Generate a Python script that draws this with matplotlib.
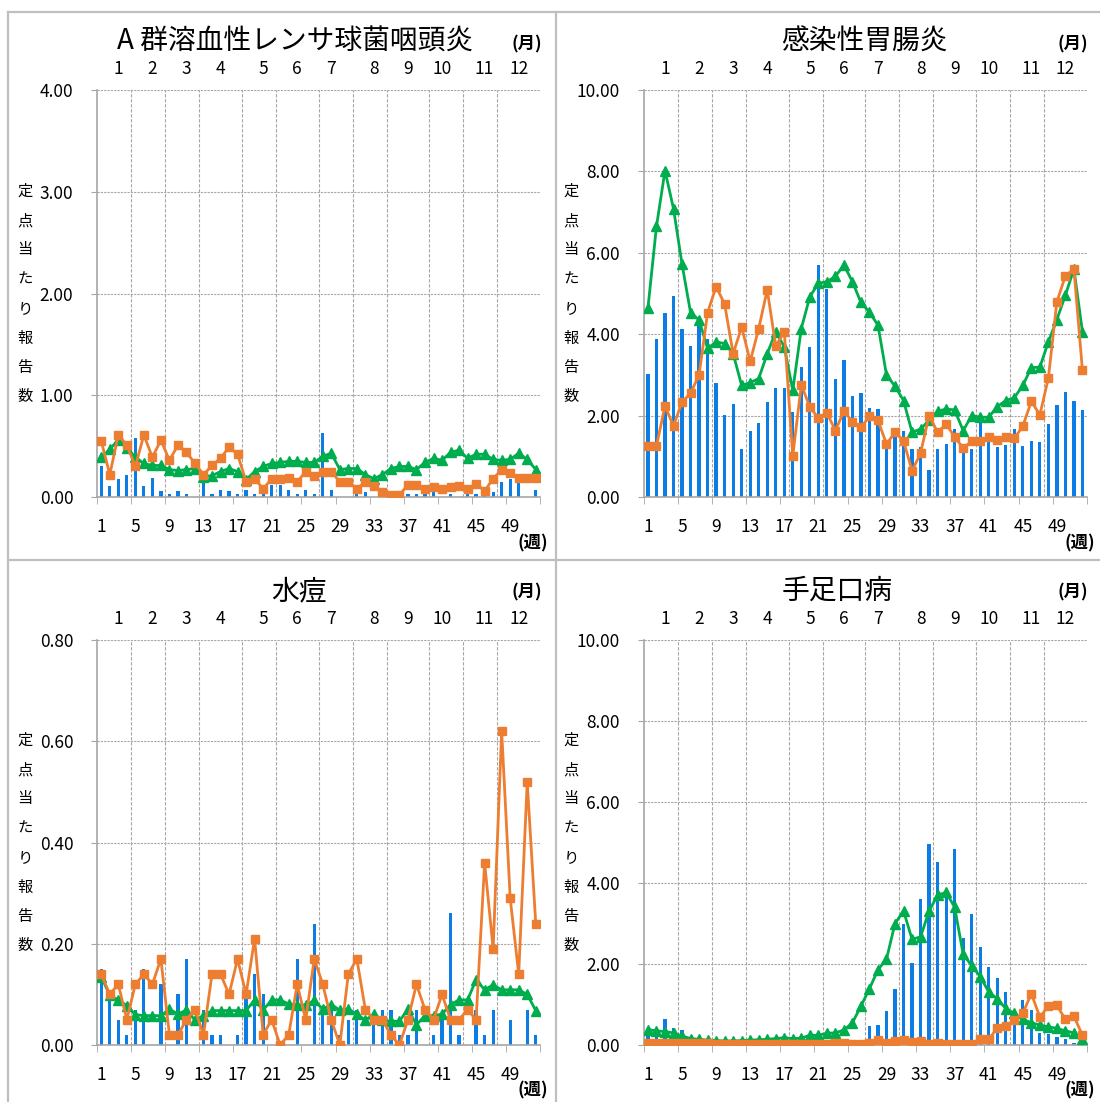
import numpy as np
import matplotlib
matplotlib.use("Agg")
import matplotlib.pyplot as plt
from matplotlib.lines import Line2D

plt.rcParams['font.family'] = ['Noto Sans CJK JP', 'DejaVu Sans']

weeks = np.arange(1, 53)
month_names = ['1', '2', '3', '4', '5', '6', '7', '8', '9', '10', '11', '12']
month_label_week = [3, 7, 11, 15, 20, 24, 28, 33, 37, 41, 46, 50]
month_edges = [4.5, 8.5, 12.5, 17.5, 21.5, 26.5, 30.5, 34.5, 39.5, 43.5, 47.5]
week_labels = [1, 5, 9, 13, 17, 21, 25, 29, 33, 37, 41, 45, 49]
ylabel_chars = '定点当たり報告数'

titles = ['A 群溶血性レンサ球菌咽頭炎', '感染性胃腸炎', '水痘', '手足口病']
y_max = [4.0, 10.0, 0.8, 10.0]
y_step = [1.0, 2.0, 0.2, 2.0]

# A群溶血性レンサ球菌咽頭炎
strep_cur = [0.30, 0.11, 0.18, 0.22, 0.58, 0.11, 0.19, 0.06, 0.03, 0.06, 0.03, 0.00, 0.18,
             0.03, 0.07, 0.06, 0.03, 0.07, 0.03, 0.03, 0.12, 0.12, 0.07, 0.03, 0.07, 0.03,
             0.63, 0.07, 0.00, 0.00, 0.03, 0.05, 0.00, 0.02, 0.00, 0.00, 0.03, 0.03, 0.03,
             0.05, 0.00, 0.03, 0.00, 0.04, 0.03, 0.02, 0.05, 0.15, 0.18, 0.15, 0.00, 0.07]
strep_prev = [0.55, 0.22, 0.61, 0.51, 0.30, 0.61, 0.39, 0.56, 0.36, 0.51, 0.44, 0.33, 0.22,
              0.31, 0.38, 0.49, 0.42, 0.15, 0.18, 0.08, 0.18, 0.18, 0.19, 0.15, 0.25, 0.21,
              0.25, 0.25, 0.15, 0.15, 0.08, 0.15, 0.11, 0.05, 0.02, 0.02, 0.12, 0.12, 0.08,
              0.10, 0.08, 0.10, 0.11, 0.08, 0.13, 0.06, 0.18, 0.27, 0.24, 0.19, 0.19, 0.19]
strep_avg = [0.39, 0.47, 0.56, 0.48, 0.39, 0.33, 0.31, 0.31, 0.27, 0.26, 0.27, 0.28, 0.20,
             0.21, 0.25, 0.28, 0.25, 0.17, 0.25, 0.30, 0.33, 0.34, 0.35, 0.35, 0.34, 0.34,
             0.40, 0.43, 0.27, 0.28, 0.28, 0.22, 0.18, 0.22, 0.28, 0.30, 0.30, 0.27, 0.34,
             0.38, 0.36, 0.44, 0.46, 0.38, 0.42, 0.42, 0.37, 0.36, 0.37, 0.43, 0.37, 0.27]

# 感染性胃腸炎
gastro_cur = [3.01, 3.89, 4.51, 4.95, 4.14, 3.70, 4.28, 3.89, 2.81, 2.02, 2.29, 1.18, 1.61,
              1.82, 2.33, 2.68, 2.68, 2.08, 3.19, 3.69, 5.69, 5.10, 2.89, 3.36, 2.49, 2.56,
              2.19, 2.16, 1.30, 1.55, 1.63, 1.18, 1.23, 0.67, 1.18, 1.30, 1.67, 1.18, 1.18,
              1.88, 1.37, 1.23, 1.28, 1.67, 1.26, 1.38, 1.34, 1.79, 2.25, 2.59, 2.35, 2.14]
gastro_prev = [1.26, 1.26, 2.23, 1.75, 2.33, 2.55, 3.00, 4.53, 5.17, 4.74, 3.52, 4.18, 3.33,
               4.14, 5.09, 3.71, 4.06, 1.01, 2.76, 2.21, 1.94, 2.07, 1.63, 2.11, 1.85, 1.71,
               1.98, 1.88, 1.30, 1.59, 1.38, 0.64, 1.08, 2.00, 1.59, 1.79, 1.48, 1.20, 1.37,
               1.37, 1.47, 1.40, 1.47, 1.44, 1.74, 2.35, 2.02, 2.92, 4.80, 5.43, 5.60, 3.11]
gastro_avg = [4.65, 6.65, 8.02, 7.08, 5.72, 4.53, 4.35, 3.65, 3.81, 3.77, 3.52, 2.74, 2.81,
              2.91, 3.52, 4.06, 3.69, 2.62, 4.14, 4.92, 5.25, 5.29, 5.42, 5.70, 5.29, 4.78,
              4.54, 4.22, 3.00, 2.72, 2.37, 1.59, 1.67, 1.88, 2.11, 2.16, 2.14, 1.63, 2.00,
              1.96, 1.96, 2.22, 2.37, 2.44, 2.74, 3.18, 3.19, 3.81, 4.36, 4.96, 5.60, 4.06]

# 水痘
vari_cur = [0.15, 0.10, 0.05, 0.02, 0.07, 0.15, 0.00, 0.12, 0.00, 0.10, 0.17, 0.00, 0.07,
            0.02, 0.02, 0.00, 0.02, 0.10, 0.14, 0.10, 0.00, 0.00, 0.00, 0.17, 0.00, 0.24,
            0.07, 0.07, 0.02, 0.05, 0.07, 0.00, 0.06, 0.07, 0.07, 0.02, 0.02, 0.07, 0.00,
            0.02, 0.05, 0.26, 0.02, 0.00, 0.07, 0.02, 0.07, 0.00, 0.05, 0.00, 0.07, 0.02]
vari_prev = [0.14, 0.10, 0.12, 0.05, 0.12, 0.14, 0.12, 0.17, 0.02, 0.02, 0.05, 0.07, 0.02,
             0.14, 0.14, 0.10, 0.17, 0.10, 0.21, 0.02, 0.05, 0.00, 0.02, 0.12, 0.05, 0.17,
             0.12, 0.05, 0.00, 0.14, 0.17, 0.07, 0.05, 0.05, 0.02, 0.00, 0.05, 0.12, 0.07,
             0.05, 0.10, 0.05, 0.05, 0.07, 0.05, 0.36, 0.19, 0.62, 0.29, 0.14, 0.52, 0.24]
vari_avg = [0.135, 0.098, 0.089, 0.078, 0.060, 0.058, 0.058, 0.058, 0.071, 0.061, 0.069,
            0.049, 0.058, 0.068, 0.068, 0.068, 0.068, 0.068, 0.089, 0.069, 0.089, 0.089,
            0.081, 0.079, 0.079, 0.088, 0.071, 0.080, 0.069, 0.071, 0.061, 0.049, 0.061,
            0.049, 0.047, 0.047, 0.071, 0.040, 0.058, 0.058, 0.061, 0.080, 0.089, 0.089,
            0.129, 0.109, 0.119, 0.109, 0.109, 0.109, 0.100, 0.068]

# 手足口病
hfmd_cur = [0.29, 0.33, 0.63, 0.43, 0.37, 0.05, 0.02, 0.02, 0.02, 0.02, 0.02, 0.02, 0.02,
            0.02, 0.02, 0.02, 0.02, 0.02, 0.02, 0.02, 0.02, 0.02, 0.02, 0.02, 0.05, 0.08,
            0.47, 0.49, 0.84, 1.39, 3.00, 2.02, 3.61, 4.96, 4.51, 3.75, 4.84, 2.64, 3.24,
            2.42, 1.92, 1.65, 1.32, 0.86, 1.10, 0.86, 0.29, 0.26, 0.20, 0.16, 0.06, 0.04]
hfmd_prev = [0.04, 0.04, 0.04, 0.04, 0.04, 0.04, 0.04, 0.04, 0.03, 0.03, 0.03, 0.03, 0.03,
             0.03, 0.03, 0.03, 0.03, 0.03, 0.03, 0.03, 0.03, 0.03, 0.04, 0.04, 0.03, 0.02,
             0.06, 0.12, 0.04, 0.10, 0.12, 0.08, 0.11, 0.02, 0.06, 0.02, 0.02, 0.02, 0.02,
             0.16, 0.14, 0.42, 0.47, 0.61, 0.78, 1.27, 0.69, 0.96, 0.98, 0.63, 0.71, 0.24]
hfmd_avg = [0.38, 0.35, 0.33, 0.30, 0.22, 0.16, 0.14, 0.12, 0.11, 0.10, 0.10, 0.11, 0.12,
            0.13, 0.14, 0.16, 0.18, 0.16, 0.17, 0.24, 0.24, 0.29, 0.30, 0.37, 0.55, 0.96,
            1.39, 1.86, 2.12, 3.00, 3.31, 2.61, 2.67, 3.31, 3.70, 3.77, 3.40, 2.24, 1.96,
            1.69, 1.31, 1.14, 0.90, 0.78, 0.63, 0.55, 0.49, 0.45, 0.41, 0.35, 0.30, 0.16]

cur_data = [strep_cur, gastro_cur, vari_cur, hfmd_cur]
prev_data = [strep_prev, gastro_prev, vari_prev, hfmd_prev]
avg_data = [strep_avg, gastro_avg, vari_avg, hfmd_avg]

BLUE = '#0B7DE4'
ORANGE = '#ED7D31'
GREEN = '#00AD4E'
GRID = '#A6A6A6'
FRAME = '#BFBFBF'

W, H = 1100, 1102
fig = plt.figure(figsize=(W / 100, H / 100), dpi=100)


def fpos(x, y):
    return x / W, 1 - y / H


# panel frame lines
for (x0, y0), (x1, y1) in [((8, 12), (1100, 12)), ((8, 12), (8, 1102)),
                           ((556, 12), (556, 1102)), ((8, 560), (1100, 560))]:
    a, b = fpos(x0, y0)
    c, d = fpos(x1, y1)
    fig.add_artist(Line2D([a, c], [b, d], color=FRAME, lw=1.6))

# axes boxes in pixels: left, top, width, height
boxes = [(97, 90, 443, 407), (643.7, 90, 443, 407),
         (97, 640, 443, 405), (643.7, 640, 443, 405)]
title_xy = [(295, 42), (864, 42), (299, 591), (837, 591)]
tsuki_xy = [(527, 44), (1073, 44), (527, 592), (1073, 592)]
shu_xy = [(533, 543), (1080, 543), (533, 1090), (1080, 1090)]
ylab_xy = [(25, 294), (571, 294), (25, 843), (571, 843)]

for i in range(4):
    l, t, w, h = boxes[i]
    ax = fig.add_axes([l / W, 1 - (t + h) / H, w / W, h / H])

    ax.bar(weeks, cur_data[i], width=0.38, color=BLUE, zorder=2)
    ax.plot(weeks, avg_data[i], color=GREEN, lw=2.0, marker='^', ms=7, zorder=3)
    ax.plot(weeks, prev_data[i], color=ORANGE, lw=2.0, marker='s', ms=5.5, zorder=4)

    ax.set_xlim(0.5, 52.5)
    ax.set_ylim(0, y_max[i])
    ax.set_yticks(np.arange(0, y_max[i] + y_step[i] / 2, y_step[i]))
    ax.yaxis.set_major_formatter(matplotlib.ticker.FormatStrFormatter('%.2f'))
    ax.grid(axis='y', color=GRID, lw=0.8, linestyle=(0, (2, 1)), zorder=0)
    for e in month_edges:
        ax.axvline(e, color=GRID, lw=0.8, linestyle=(0, (3, 1.5)), zorder=0)

    ax.set_xticks(week_labels)
    ax.set_xticklabels([str(k) for k in week_labels])
    ax.set_xticks(np.arange(0.5, 53, 4), minor=True)
    ax.tick_params(axis='x', which='major', length=0, pad=15, labelsize=12.5)
    ax.tick_params(axis='x', which='minor', length=5, color=GRID, direction='out')
    ax.tick_params(axis='y', length=4, color=GRID, pad=13, labelsize=12.5)
    for s in ['top', 'right']:
        ax.spines[s].set_visible(False)
    for s in ['left', 'bottom']:
        ax.spines[s].set_color(GRID)
        ax.spines[s].set_linewidth(1.2)
    ax.set_axisbelow(True)

    for name, wk in zip(month_names, month_label_week):
        ax.text(wk, 1 + 21 / h, name, transform=ax.get_xaxis_transform(),
                ha='center', va='center', fontsize=12.5)

    x, y = fpos(*title_xy[i])
    fig.text(x, y, titles[i], ha='center', va='center', fontsize=20)
    x, y = fpos(*tsuki_xy[i])
    fig.text(x, y, '(月)', ha='center', va='center', fontsize=12.5, fontweight='bold')
    x, y = fpos(*shu_xy[i])
    fig.text(x, y, '(週)', ha='center', va='center', fontsize=12.5, fontweight='bold')
    x, y = fpos(*ylab_xy[i])
    fig.text(x, y, '\n'.join(ylabel_chars), ha='center', va='center',
             fontsize=11, linespacing=1.95)

fig.savefig('out.png', dpi=100)
